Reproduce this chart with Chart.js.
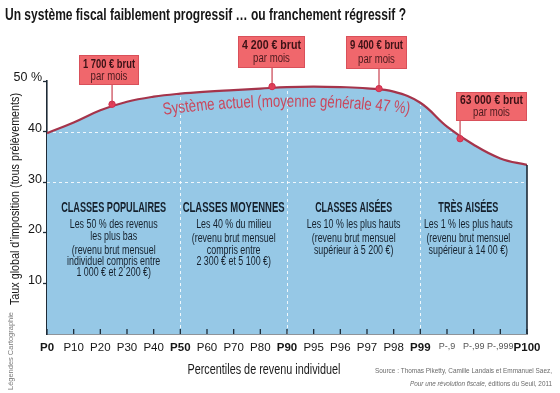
<!DOCTYPE html>
<html><head><meta charset="utf-8">
<script src="https://cdn.jsdelivr.net/npm/chart.js@4.4.1/dist/chart.umd.min.js"></script>
<style>html,body{margin:0;padding:0;background:#fff}#wrap{width:560px;height:393px}</style>
</head><body><div id="wrap"><canvas id="c" width="560" height="393"></canvas></div>
<script>
const percentileLabels = ['P0','P10','P20','P30','P40','P50','P60','P70','P80','P90','P95','P96','P97','P98','P99','P-,9','P-,99','P-,999','P100'];
const taxRates = [39.7,41.8,44.2,45.9,46.9,47.5,47.9,48.2,48.5,48.8,48.9,48.8,48.55,47.9,45.7,41.0,37.4,34.7,33.4];
const markerPositions = [2.44, 8.44, 12.45, 15.49];
const markerRates = [45.4, 48.9, 48.5, 38.6];
const markerIncomes = ['1 700 € brut','4 200 € brut','9 400 € brut','63 000 € brut'];
const yTickValues = [0,10,20,30,40,50];
const yTickLabels = ['','10','20','30','40','50 %'];
const boldLabels = ['P0','P50','P90','P99','P100'];
const smallLabels = ['P-,9','P-,99','P-,999'];
const dividerPositions = [5, 9, 14];
const dashedRates = [30, 40];
const classTitles = ['CLASSES POPULAIRES','CLASSES MOYENNES','CLASSES AISÉES','TRÈS AISÉES'];
const classLines = [
  ['Les 50 % des revenus','les plus bas','(revenu brut mensuel','individuel compris entre','1 000 € et 2 200 €)'],
  ['Les 40 % du milieu','(revenu brut mensuel','compris entre','2 300 € et 5 100 €)'],
  ['Les 10 % les plus hauts','(revenu brut mensuel','supérieur à 5 200 €)'],
  ['Les 1 % les plus hauts','(revenu brut mensuel','supérieur à 14 00 €)']
];
const classCenters = [2.5, 7, 11.5, 15.8];

const FF = "'Liberation Sans', Arial, sans-serif";

function drawSq(ctx, s, x, y, font, color, align, sq) {
  ctx.save();
  ctx.font = font; ctx.fillStyle = color; ctx.textBaseline = 'middle'; ctx.textAlign = 'left';
  const w = ctx.measureText(s).width * sq;
  const x0 = align === 'center' ? x - w / 2 : (align === 'right' ? x - w : x);
  ctx.translate(x0, y); ctx.scale(sq, 1); ctx.fillText(s, 0, 0);
  ctx.restore();
  return w;
}
function drawFit(ctx, s, x, y, font, color, align, width) {
  ctx.save(); ctx.font = font;
  const sq = width / ctx.measureText(s).width;
  ctx.restore();
  return drawSq(ctx, s, x, y, font, color, align, sq);
}

const decor = {
  id: 'decor',
  beforeDraw(chart) {
    const ctx = chart.ctx;
    ctx.save(); ctx.fillStyle = '#fff'; ctx.fillRect(0, 0, chart.width, chart.height); ctx.restore();
  },
  beforeDatasetsDraw(chart) {
    const {ctx, chartArea: a, scales: {x, y}} = chart;
    ctx.save();
    ctx.strokeStyle = 'rgba(255,255,255,0.85)';
    ctx.lineWidth = 1;
    ctx.setLineDash([3, 3]);
    dashedRates.forEach(v => {
      const py = Math.round(y.getPixelForValue(v)) + 0.5;
      ctx.beginPath(); ctx.moveTo(a.left, py); ctx.lineTo(a.right, py); ctx.stroke();
    });
    dividerPositions.forEach(i => {
      const px = Math.round(x.getPixelForValue(i)) + 0.5;
      ctx.beginPath(); ctx.moveTo(px, a.bottom); ctx.lineTo(px, y.getPixelForValue(taxRates[i]) + 2); ctx.stroke();
    });
    ctx.restore();
  },
  afterDatasetsDraw(chart) {
    const {ctx, chartArea: a, scales: {x, y}} = chart;
    ctx.save();
    ctx.strokeStyle = '#1e2a36'; ctx.lineWidth = 1.6;
    ctx.beginPath();
    ctx.moveTo(a.right, y.getPixelForValue(taxRates[taxRates.length - 1]));
    ctx.lineTo(a.right, a.bottom); ctx.stroke();
    ctx.lineWidth = 1.3;
    percentileLabels.forEach((l, i) => {
      const px = x.getPixelForValue(i);
      ctx.beginPath(); ctx.moveTo(px, a.bottom); ctx.lineTo(px, a.bottom - 5); ctx.stroke();
    });
    ctx.restore();

    const titleW = [105, 102, 77, 60];
    classTitles.forEach((t, k) => {
      const cx = x.getPixelForValue(classCenters[k]);
      drawFit(ctx, t, cx, 208, 'bold 14px ' + FF, '#15202c', 'center', titleW[k]);
      classLines[k].forEach((line, j) => {
        const yy = k === 0 ? [225, 237, 251, 262, 273][j] : [225, 239, 251, 262][j];
        drawSq(ctx, line, cx, yy, '12px ' + FF, '#15202c', 'center', 0.74);
      });
    });

    const label = 'Système actuel (moyenne générale 47 %)';
    ctx.save();
    ctx.font = '17px ' + FF;
    const total = ctx.measureText(label).width;
    const sq = 247 / total;
    let cx = 163;
    ctx.fillStyle = '#c9475c'; ctx.textBaseline = 'middle'; ctx.textAlign = 'center';
    for (const ch of label) {
      const w = ctx.measureText(ch).width * sq;
      const mx = cx + w / 2;
      const k = 0.0005;
      const yy = 102 + k * (mx - 290) * (mx - 290);
      const ang = Math.atan(2 * k * (mx - 290) * 1.6);
      ctx.save(); ctx.translate(mx, yy); ctx.rotate(ang); ctx.scale(sq, 1); ctx.fillText(ch, 0, 0); ctx.restore();
      cx += w;
    }
    ctx.restore();

    const rects = [[79, 55, 60, 30], [238, 36, 67, 32], [346, 36, 61, 33], [456, 92, 71, 29]];
    markerPositions.forEach((p, i) => {
      const px = x.getPixelForValue(p), py = y.getPixelForValue(markerRates[i]);
      const [bx, by, bw, bh] = rects[i];
      ctx.save();
      ctx.strokeStyle = '#c8404f'; ctx.lineWidth = 1.2;
      ctx.beginPath(); ctx.moveTo(px, by + bh); ctx.lineTo(px, py); ctx.stroke();
      ctx.fillStyle = '#f0676c'; ctx.fillRect(bx, by, bw, bh);
      ctx.strokeStyle = '#d9505a'; ctx.lineWidth = 1; ctx.strokeRect(bx + 0.5, by + 0.5, bw - 1, bh - 1);
      ctx.restore();
      drawFit(ctx, markerIncomes[i], bx + bw / 2, by + bh * 0.3, 'bold 13px ' + FF, '#3b1216', 'center', bw - 8);
      drawSq(ctx, 'par mois', bx + bw / 2, by + bh * 0.72, '12px ' + FF, '#4a1a1e', 'center', 0.8);
    });
  },
  afterDraw(chart) {
    const ctx = chart.ctx;
    drawFit(ctx, 'Un système fiscal faiblement progressif … ou franchement régressif ?', 5, 16, 'bold 16px ' + FF, '#161616', 'left', 401);
    drawFit(ctx, 'Percentiles de revenu individuel', 264, 370, '14px ' + FF, '#1a1a1a', 'center', 153);
    drawFit(ctx, 'Source : Thomas Piketty, Camille Landais et Emmanuel Saez,', 552, 371, '8px ' + FF, '#6a6a6a', 'right', 177);
    ctx.save(); ctx.font = 'italic 8px ' + FF;
    const w1 = ctx.measureText('Pour une révolution fiscale').width;
    ctx.font = '8px ' + FF;
    const w2 = ctx.measureText(', éditions du Seuil, 2011').width;
    ctx.restore();
    const sq2 = 142 / (w1 + w2);
    drawSq(ctx, 'Pour une révolution fiscale', 410, 384, 'italic 8px ' + FF, '#6a6a6a', 'left', sq2);
    drawSq(ctx, ', éditions du Seuil, 2011', 410 + w1 * sq2, 384, '8px ' + FF, '#6a6a6a', 'left', sq2);
    ctx.save(); ctx.translate(15, 199); ctx.rotate(-Math.PI / 2);
    drawFit(ctx, 'Taux global d’imposition (tous prélèvements)', 0, 0, '13.5px ' + FF, '#1a1a1a', 'center', 212);
    ctx.restore();
    ctx.save(); ctx.translate(11, 351); ctx.rotate(-Math.PI / 2);
    drawFit(ctx, 'Légendes Cartographie', 0, 0, '7px ' + FF, '#7a7a7a', 'center', 78);
    ctx.restore();
  }
};

new Chart(document.getElementById('c'), {
  type: 'line',
  data: {
    datasets: [
      {
        data: markerPositions.map((p, i) => ({x: p, y: markerRates[i]})),
        showLine: false, pointRadius: 3.2, pointBackgroundColor: '#e4405a', pointBorderColor: '#d03050',
        pointBorderWidth: 1, order: -1
      },
      {
        data: taxRates.map((v, i) => ({x: i, y: v})),
        borderColor: '#a5344b', borderWidth: 2.2, backgroundColor: '#96c8e6',
        fill: 'origin', pointRadius: 0, tension: 0.4, order: 1
      }
    ]
  },
  options: {
    responsive: false, animation: false, devicePixelRatio: 1, events: [],
    layout: {padding: {top: 81, right: 33, left: 0, bottom: 0}},
    plugins: {legend: {display: false}, tooltip: {enabled: false}, filler: {drawTime: 'beforeDatasetsDraw'}},
    scales: {
      x: {
        type: 'linear', min: 0, max: percentileLabels.length - 1,
        afterFit: s => { s.height = 59; },
        grid: {display: false, drawTicks: false},
        border: {display: true, color: '#1e2a36', width: 1.6},
        ticks: {
          stepSize: 1, autoSkip: false, maxRotation: 0, minRotation: 0, padding: 7,
          callback: v => percentileLabels[v] ?? '',
          font: c => {
            const l = percentileLabels[c.tick ? c.tick.value : 0];
            if (smallLabels.includes(l)) return {family: FF, size: 9};
            return {family: FF, size: 11.5, weight: boldLabels.includes(l) ? 'bold' : 'normal'};
          },
          color: c => smallLabels.includes(percentileLabels[c.tick ? c.tick.value : 0]) ? '#555' : '#161616'
        }
      },
      y: {
        min: 0, max: 50,
        afterFit: s => { s.width = 47; },
        grid: {display: true, drawOnChartArea: false, drawTicks: true, tickLength: 4,
          tickColor: c => (c.tick && c.tick.value === 0) ? 'rgba(0,0,0,0)' : '#1e2a36', tickWidth: 1.3},
        border: {display: true, color: '#1e2a36', width: 1.6},
        ticks: {
          stepSize: 10, padding: 1, labelOffset: -3, color: '#161616',
          font: {family: FF, size: 12.5},
          callback: v => { const k = yTickValues.indexOf(v); return k >= 0 ? yTickLabels[k] : ''; }
        }
      }
    }
  },
  plugins: [decor]
});
</script>
</body></html>
